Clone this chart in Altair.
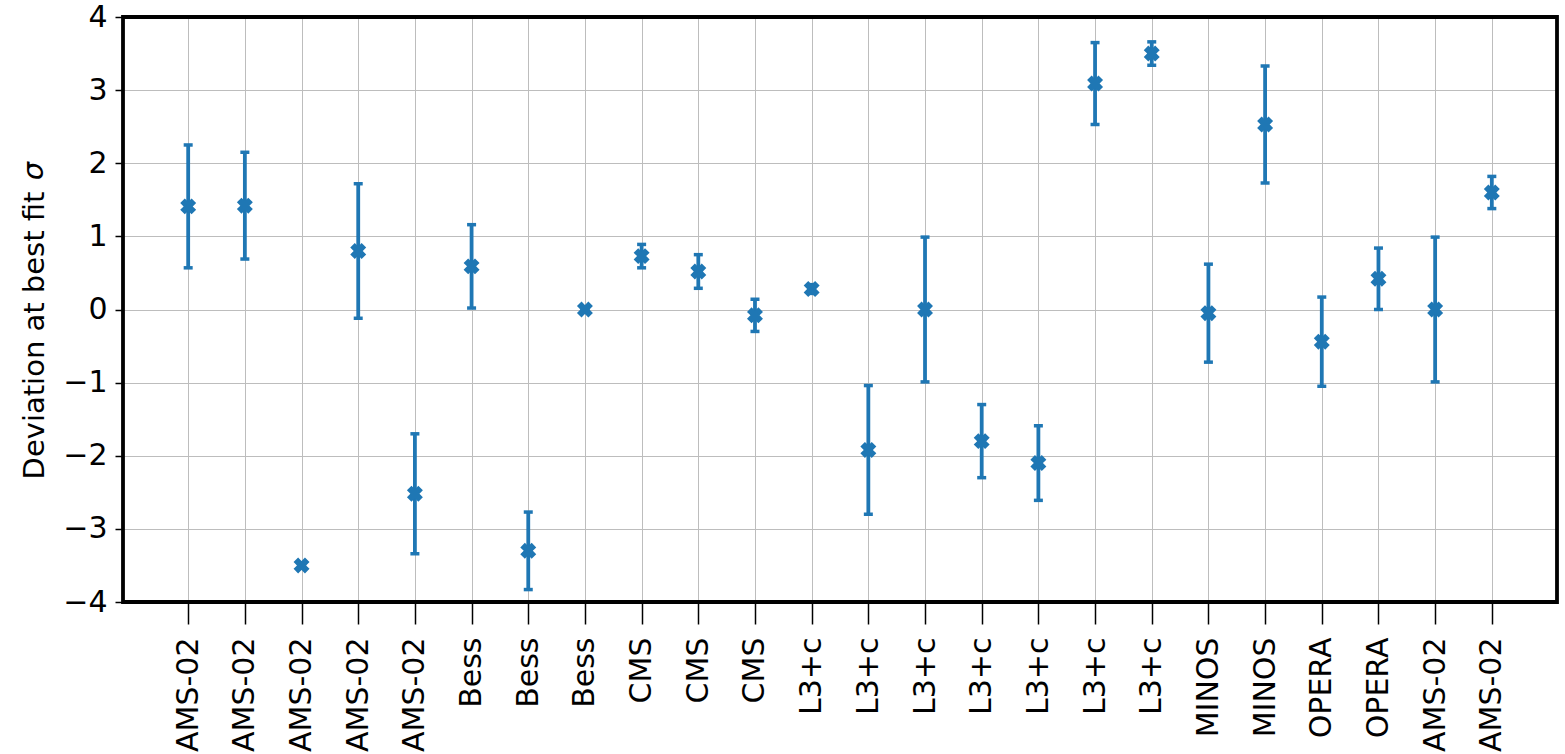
import json
import altair as alt
import pandas as pd

names = ["AMS-02", "AMS-02", "AMS-02", "AMS-02", "AMS-02",
         "Bess", "Bess", "Bess",
         "CMS", "CMS", "CMS",
         "L3+c", "L3+c", "L3+c", "L3+c", "L3+c", "L3+c", "L3+c",
         "MINOS", "MINOS", "OPERA", "OPERA", "AMS-02", "AMS-02"]
values = [1.41, 1.42, -3.50, 0.80, -2.52, 0.59, -3.30, 0.00, 0.73, 0.52, -0.08, 0.28,
          -1.92, 0.00, -1.80, -2.10, 3.09, 3.50, -0.05, 2.53, -0.44, 0.42, 0.00, 1.60]
errors = [0.84, 0.73, 0.00, 0.92, 0.82, 0.57, 0.53, 0.00, 0.16, 0.23, 0.22, 0.06,
          0.88, 0.99, 0.50, 0.51, 0.56, 0.16, 0.67, 0.80, 0.61, 0.42, 0.99, 0.22]
y_ticks = [-4, -3, -2, -1, 0, 1, 2, 3, 4]

df = pd.DataFrame({
    "idx": list(range(len(names))),
    "name": names,
    "value": values,
    "err": errors,
})
df["lo"] = df["value"] - df["err"]
df["hi"] = df["value"] + df["err"]

BLUE = "#1f77b4"
FONT = "DejaVu Sans"
W, H = 1434, 585

label_expr = json.dumps(names) + "[datum.value]"

x_enc = alt.X(
    "idx:Q",
    scale=alt.Scale(domain=[-1.15, 24.15], nice=False, zero=False),
    axis=alt.Axis(
        values=list(range(len(names))),
        labelExpr=label_expr,
        labelAngle=-90,
        labelAlign="right",
        labelBaseline="middle",
        labelFontSize=30,
        labelFont=FONT,
        labelColor="black",
        labelPadding=13,
        tickSize=22,
        tickWidth=1.5,
        tickColor="black",
        domain=False,
        grid=True,
        gridColor="#bdbdbd",
        gridWidth=1,
        title=None,
        labelOverlap=False,
        labelBound=False,
        labelFlush=False,
    ),
)

y_scale = alt.Scale(domain=[-4, 4], nice=False, zero=False)
y_axis = alt.Axis(
    values=y_ticks,
    format="d",
    labelFontSize=30,
    labelFont=FONT,
    labelColor="black",
    labelPadding=8,
    tickSize=8,
    tickWidth=1.5,
    tickColor="black",
    domain=False,
    grid=True,
    gridColor="#bdbdbd",
    gridWidth=1,
    title="Deviation at best fit",
    titleFont=FONT,
    titleFontSize=29,
    titleFontWeight="normal",
    titleColor="black",
    titleX=-89,
    titleY=318,
    titleAngle=270,
    titleAlign="center",
    titleBaseline="middle",
    labelOverlap=False,
)

base = alt.Chart(df)

bars = base.mark_rule(color=BLUE, strokeWidth=3.8).encode(
    x=x_enc,
    y=alt.Y("lo:Q", scale=y_scale, axis=y_axis),
    y2="hi:Q",
)
caps_lo = base.mark_tick(color=BLUE, orient="horizontal", size=9, thickness=3.5, opacity=1).encode(
    x="idx:Q", y="lo:Q"
)
caps_hi = base.mark_tick(color=BLUE, orient="horizontal", size=9, thickness=3.5, opacity=1).encode(
    x="idx:Q", y="hi:Q"
)
points = base.mark_point(
    shape="cross", angle=45, filled=True, color=BLUE, size=260, opacity=1
).encode(x="idx:Q", y="value:Q")

frame = alt.Chart(pd.DataFrame({"f": [0]})).mark_rect(
    fill=None, fillOpacity=0, stroke="black", strokeWidth=3.8
).encode(
    x=alt.value(0), x2=alt.value(W), y=alt.value(0), y2=alt.value(H)
)

sigma = alt.Chart(pd.DataFrame({"t": ["σ"]})).mark_text(
    font=FONT, fontSize=29, fontStyle="italic", color="black",
    angle=270, align="center", baseline="middle"
).encode(
    text="t:N", x=alt.value(-89), y=alt.value(154)
)

chart = alt.layer(bars, caps_lo, caps_hi, points, frame, sigma).properties(
    width=W,
    height=H,
    autosize=alt.AutoSizeParams(type="none"),
    padding={"left": 123, "top": 17, "right": 8, "bottom": 152},
    background="white",
).configure_view(
    strokeWidth=0,
)

chart.save("out.html", embed_options={"renderer": "svg", "actions": False})
